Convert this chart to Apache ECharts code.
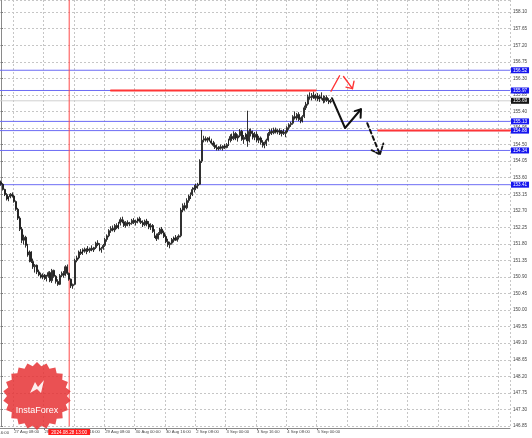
<!DOCTYPE html>
<html><head><meta charset="utf-8">
<script src="https://cdn.jsdelivr.net/npm/echarts@6.0.0/dist/echarts.min.js"></script>
<style>html,body{margin:0;padding:0;background:#fff;overflow:hidden}#c{width:532px;height:438px}</style>
</head><body><div id="c"></div>
<script>
// ---------- data ----------
const tradingDays = ['27 Aug','28 Aug','29 Aug','30 Aug','2 Sep','3 Sep','4 Sep','5 Sep','6 Sep','9 Sep','10 Sep','11 Sep'];
const firstHour = 1;          // first bar: 27 Aug 01:00
const categoryCount = 269;    // hourly slots incl. empty future space
const tickLabels = ['27 Aug 08:00','28 Aug 00:00','28 Aug 16:00','29 Aug 08:00','30 Aug 00:00','30 Aug 16:00','2 Sep 08:00','3 Sep 00:00','3 Sep 16:00','4 Sep 08:00','5 Sep 00:00'];
const clippedTickLabel = '26 Aug 16:00';
const gridEvery = 16, gridPhase = 7;

// H1 bars [open, high, low, close]
const bars = [
[153.48,153.52,153.38,153.42],[153.42,153.45,153.25,153.28],[153.28,153.30,153.10,153.14],[153.14,153.18,152.98,153.02],
[153.02,153.10,152.96,153.08],[153.08,153.18,153.04,153.15],[153.15,153.20,153.06,153.10],[153.10,153.14,152.92,152.95],
[152.95,152.98,152.70,152.74],[152.74,152.78,152.45,152.50],[152.50,152.55,152.15,152.20],[152.20,152.26,151.82,151.90],
[151.90,152.05,151.78,151.98],[151.98,152.02,151.70,151.76],[151.76,151.80,151.45,151.50],[151.50,151.62,151.30,151.58],
[151.58,151.60,151.28,151.32],[151.32,151.40,151.12,151.18],[151.18,151.25,151.02,151.22],[151.22,151.24,150.98,151.04],
[151.04,151.10,150.92,150.96],[150.96,151.02,150.86,150.90],[150.90,151.00,150.84,150.95],[150.95,150.98,150.82,150.86],
[150.86,150.96,150.78,150.92],[150.92,151.05,150.88,151.02],[151.02,151.06,150.76,150.80],[150.80,151.12,150.74,151.08],
[151.08,151.10,150.88,150.92],[150.92,150.95,150.72,150.78],[150.78,150.84,150.66,150.70],[150.70,150.98,150.68,150.94],
[150.94,151.05,150.90,151.00],[151.00,151.06,150.88,150.95],[150.95,151.22,150.92,151.18],[151.18,151.24,150.96,151.00],
[151.00,151.02,150.80,150.84],[150.84,150.86,150.60,150.66],[150.66,150.72,150.58,150.70],[150.70,151.40,150.68,151.35],
[151.35,151.48,151.30,151.42],[151.42,151.62,151.38,151.58],[151.58,151.66,151.50,151.54],[151.54,151.68,151.50,151.64],
[151.64,151.70,151.56,151.60],[151.60,151.68,151.52,151.66],[151.66,151.74,151.58,151.62],[151.62,151.70,151.56,151.68],
[151.68,151.76,151.60,151.64],[151.64,151.72,151.58,151.70],[151.70,151.86,151.66,151.82],[151.82,151.90,151.74,151.78],
[151.78,151.82,151.60,151.64],[151.64,151.72,151.56,151.68],[151.68,151.80,151.64,151.76],[151.76,151.96,151.72,151.92],
[151.92,152.06,151.86,152.02],[152.02,152.20,151.98,152.16],[152.16,152.28,152.10,152.22],[152.22,152.30,152.14,152.18],
[152.18,152.34,152.12,152.30],[152.30,152.36,152.20,152.24],[152.24,152.40,152.20,152.36],[152.36,152.52,152.30,152.46],
[152.46,152.54,152.36,152.40],[152.40,152.46,152.26,152.30],[152.30,152.42,152.24,152.38],[152.38,152.44,152.28,152.34],
[152.34,152.40,152.28,152.36],[152.36,152.48,152.32,152.44],[152.44,152.50,152.34,152.38],[152.38,152.46,152.30,152.42],
[152.42,152.52,152.36,152.48],[152.48,152.54,152.38,152.42],[152.42,152.50,152.34,152.38],[152.38,152.44,152.26,152.32],
[152.32,152.46,152.28,152.42],[152.42,152.48,152.28,152.34],[152.34,152.42,152.20,152.26],[152.26,152.36,152.18,152.30],
[152.30,152.34,152.10,152.14],[152.14,152.20,151.96,152.02],[152.02,152.08,151.88,151.94],[151.94,152.12,151.92,152.08],
[152.08,152.24,152.04,152.20],[152.20,152.26,152.06,152.10],[152.10,152.16,151.96,152.00],[152.00,152.06,151.82,151.86],
[151.86,151.94,151.72,151.78],[151.78,151.86,151.68,151.82],[151.82,151.96,151.78,151.92],[151.92,152.00,151.84,151.96],
[151.96,152.04,151.88,151.90],[151.90,152.02,151.86,151.98],[151.98,152.06,151.92,152.02],
[152.02,152.78,151.98,152.72],[152.72,152.90,152.66,152.84],[152.84,152.92,152.70,152.78],[152.78,153.04,152.74,152.98],
[152.98,153.14,152.92,153.10],[153.10,153.20,153.02,153.14],[153.14,153.34,153.10,153.28],[153.28,153.40,153.20,153.32],
[153.32,153.44,153.26,153.38],[153.38,153.46,153.30,153.42],[153.42,154.10,153.40,154.05],[154.05,154.90,154.00,154.62],
[154.62,154.74,154.56,154.66],[154.66,154.72,154.58,154.62],[154.62,154.70,154.56,154.68],[154.68,154.72,154.58,154.60],
[154.60,154.66,154.50,154.54],[154.54,154.60,154.44,154.48],[154.48,154.56,154.38,154.42],[154.42,154.50,154.34,154.38],
[154.38,154.46,154.34,154.44],[154.44,154.50,154.36,154.40],[154.40,154.48,154.34,154.46],[154.46,154.52,154.38,154.42],
[154.42,154.54,154.40,154.50],[154.50,154.66,154.46,154.62],[154.62,154.78,154.56,154.72],[154.72,154.80,154.60,154.66],
[154.66,154.86,154.62,154.80],[154.80,154.84,154.62,154.68],[154.68,154.78,154.58,154.74],[154.74,154.92,154.70,154.86],
[154.86,154.90,154.60,154.64],[154.64,154.76,154.52,154.70],[154.70,154.82,154.64,154.78],[154.78,155.42,154.44,154.60],
[154.60,154.92,154.56,154.86],[154.86,154.94,154.72,154.80],[154.80,154.88,154.64,154.70],[154.70,154.84,154.62,154.78],
[154.78,154.86,154.56,154.62],[154.62,154.74,154.54,154.68],[154.68,154.72,154.50,154.56],[154.56,154.62,154.42,154.48],
[154.48,154.58,154.40,154.52],[154.52,154.66,154.46,154.62],[154.62,154.84,154.58,154.80],[154.80,154.92,154.74,154.86],
[154.86,154.94,154.76,154.82],[154.82,154.96,154.78,154.90],[154.90,154.96,154.80,154.84],[154.84,154.92,154.78,154.88],
[154.88,154.94,154.76,154.80],[154.80,154.90,154.72,154.86],[154.86,154.92,154.76,154.80],[154.80,154.88,154.70,154.84],
[154.84,155.00,154.80,154.96],[154.96,155.08,154.90,155.04],[155.04,155.12,154.98,155.08],[155.08,155.30,155.04,155.26],
[155.26,155.40,155.18,155.22],[155.22,155.36,155.16,155.32],[155.32,155.38,155.14,155.18],[155.18,155.24,155.08,155.14],
[155.14,155.30,155.10,155.26],[155.26,155.56,155.22,155.50],[155.50,155.66,155.44,155.60],[155.60,155.86,155.56,155.80],
[155.80,155.92,155.72,155.78],[155.78,155.90,155.70,155.84],[155.84,155.94,155.74,155.76],[155.76,155.88,155.70,155.82],
[155.82,155.90,155.68,155.74],[155.74,155.86,155.66,155.80],[155.80,155.92,155.72,155.76],[155.76,155.84,155.62,155.70],
[155.70,155.82,155.64,155.78],[155.78,155.84,155.66,155.70],[155.70,155.76,155.60,155.66],[155.66,155.74,155.62,155.69]
];

const blueLevels = [156.52, 155.97, 155.13, 154.88, 154.34, 153.41];
const bidPrice = 155.69;
const markerIndex = 36;               // 28 Aug 13:00
const markerTime = '28 Aug 13:00';
const markerLabel = '2024.08.28 13:00';
const yMin = 146.85, yMax = 158.43, yStep = 0.45;

// annotations: [bar index, price]
const redResistance = [[58, 155.97], [166, 155.97]];
const redSupport = [[199, 154.88], [268.5, 154.88]];
const redUp = [[174.1, 155.95], [178.6, 156.37]];
const redDown = [[180.7, 156.35], [185.4, 156.02]];
const redDownHead = [[182.0, 156.06], [185.4, 156.02], [186.2, 156.22]];
const blackPath = [[174.6, 155.76], [181.5, 154.95], [189.9, 155.46]];
const blackHead = [[186.6, 155.41], [189.9, 155.46], [189.7, 155.23]];
const dashedPath = [[193.2, 155.08], [199.9, 154.23]];
const dashedHead = [[195.5, 154.35], [199.9, 154.23], [201.7, 154.53]];

// ---------- build ----------
const categories = [];
for (const d of tradingDays) {
  for (let h = 0; h < 24; h++) {
    if (d === tradingDays[0] && h < firstHour) continue;
    if (categories.length < categoryCount) categories.push(d + ' ' + String(h).padStart(2, '0') + ':00');
  }
}
const FONT = '"Liberation Sans", Arial, sans-serif';
const xEnd = categoryCount - 0.5;
const clear = { color: 'rgba(255,255,255,0)', width: 1, type: 'solid' };

function seg(data, color, width, type, z) {
  return { type: 'line', xAxisIndex: 1, yAxisIndex: 0, data: data, symbol: 'none', silent: true,
    lineStyle: { color: color, width: width, type: type || 'solid', cap: 'round', join: 'round' }, z: z || 6, animation: false };
}

const markData = [];
blueLevels.forEach(v => markData.push({
  yAxis: v, lineStyle: clear,
  label: { show: true, position: 'end', formatter: v.toFixed(2), color: '#fff', backgroundColor: '#1616ee',
    fontSize: 4.6, fontFamily: FONT, padding: [1, 2, 0, 2], distance: 1 }
}));
markData.push({
  yAxis: bidPrice, lineStyle: clear,
  label: { show: true, position: 'end', formatter: bidPrice.toFixed(2), color: '#fff', backgroundColor: '#151515',
    fontSize: 4.6, fontFamily: FONT, padding: [1, 2, 0, 2], distance: 1 }
});
markData.push({
  xAxis: markerTime, lineStyle: clear,
  label: { show: true, position: 'start', formatter: markerLabel, color: '#fff', backgroundColor: '#ff1c1c',
    fontSize: 4.6, fontFamily: FONT, padding: [1, 3, 0, 3], distance: 3 }
});

const levelSeries = blueLevels.map(v => seg([[-0.5, v], [xEnd, v]], '#6d6df4', 1, 'solid', 2));

// seal logo polygon (decoration)
const sealC = [37, 396], sealR = 34, sealr = 30, sealN = 22;
const sealPts = [];
for (let i = 0; i < sealN * 2; i++) {
  const a = Math.PI * i / sealN - Math.PI / 2;
  const r = i % 2 ? sealr : sealR;
  sealPts.push([sealC[0] + r * Math.cos(a), sealC[1] + r * Math.sin(a)]);
}

const chart = echarts.init(document.getElementById('c'), null, { renderer: 'canvas' });
chart.setOption({
  animation: false,
  backgroundColor: '#ffffff',
  grid: { left: 0, right: 22, top: 0, bottom: 12, containLabel: false },
  xAxis: [{
    type: 'category', data: categories, boundaryGap: true, offset: 2,
    axisLine: { show: true, lineStyle: { color: '#8a8a8a', width: 1 } },
    axisTick: { show: true, length: 2, alignWithLabel: true, interval: (i, v) => tickLabels.includes(v), lineStyle: { color: '#777' } },
    axisLabel: { show: true, interval: (i, v) => tickLabels.includes(v), align: 'left', fontSize: 4.2, fontFamily: FONT, color: '#444', margin: 2 },
    splitLine: { show: true, interval: (i) => i % gridEvery === gridPhase, lineStyle: { color: '#c6c6c6', type: [2, 2], width: 1 } }
  }, {
    type: 'value', min: -0.5, max: xEnd, show: false
  }],
  yAxis: {
    type: 'value', position: 'right', min: yMin, max: yMax, interval: yStep,
    axisLine: { show: true, lineStyle: { color: '#8a8a8a', width: 1 } },
    axisTick: { show: true, length: 2, lineStyle: { color: '#777' } },
    axisLabel: { fontSize: 4.6, fontFamily: FONT, color: '#444', margin: 3, showMaxLabel: false,
      formatter: v => v.toFixed(2) },
    splitLine: { show: true, lineStyle: { color: '#c6c6c6', type: [2, 2], width: 1 } }
  },
  series: [
    {
      type: 'candlestick', xAxisIndex: 0, yAxisIndex: 0, barWidth: 1.4, z: 3,
      data: bars.map(b => [b[0], b[3], b[2], b[1]]),
      itemStyle: { color: '#ffffff', color0: '#1a1a1a', borderColor: '#1a1a1a', borderColor0: '#1a1a1a', borderWidth: 0.9 },
      markLine: { silent: true, symbol: ['none', 'none'], animation: false, precision: 2, z: 8, data: markData }
    },
    ...levelSeries,
    seg([[-0.5, bidPrice], [xEnd, bidPrice]], '#d0d0d0', 1, 'solid', 1),
    seg([[markerIndex, yMin], [markerIndex, yMax]], '#ff4a4a', 1, 'solid', 2),
    seg(redResistance, '#ff3535', 2),
    seg(redSupport, '#ff3535', 2),
    seg(redUp, '#ff3535', 1.4),
    seg(redDown, '#ff3535', 1.4),
    seg(redDownHead, '#ff3535', 1.4),
    seg(blackPath, '#111', 2),
    seg(blackHead, '#111', 2),
    seg(dashedPath, '#111', 2, [4, 3]),
    seg(dashedHead, '#111', 1.8, [3, 2])
  ],
  graphic: [
    { type: 'polygon', shape: { points: sealPts }, style: { fill: 'rgba(230,48,50,0.84)' }, z: 20, silent: true },
    { type: 'polygon', shape: { points: [[30, 393], [35, 382], [38, 387], [44, 380], [41, 393], [37, 389]] }, style: { fill: 'rgba(255,255,255,0.9)' }, z: 21, silent: true },
    { type: 'text', x: sealC[0], y: sealC[1] + 15, style: { text: 'InstaForex', fill: '#fff', font: '9px ' + FONT, align: 'center', verticalAlign: 'middle' }, z: 21, silent: true },
    { type: 'text', x: 9, y: 433, style: { text: clippedTickLabel, fill: '#444', font: '4.2px ' + FONT, align: 'right', verticalAlign: 'middle' }, z: 21, silent: true }
  ]
});
</script>
</body></html>
